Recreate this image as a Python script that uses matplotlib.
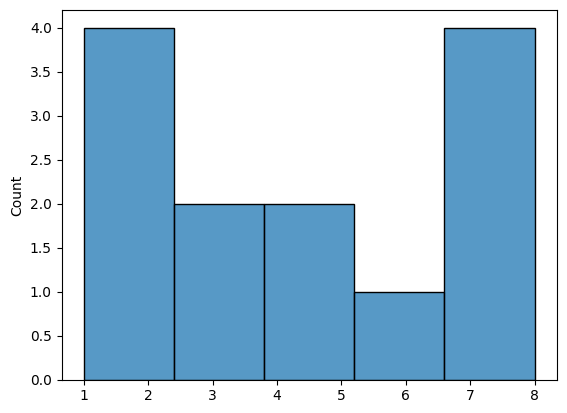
import numpy as np
import matplotlib
matplotlib.use("Agg")
import matplotlib.pyplot as plt
import seaborn as sns

## Donnees
bin_edges = [1.0, 2.4, 3.8, 5.2, 6.6, 8.0]
counts = [4, 2, 2, 1, 4]

## Trace
centers = [(bin_edges[i] + bin_edges[i+1]) / 2 for i in range(len(counts))]
fig = plt.figure(figsize=(5.67, 4.13), dpi=100)
ax = fig.add_axes([0.1085, 0.0811, 0.874, 0.894])
sns.histplot(x=centers, weights=counts, bins=bin_edges, edgecolor="black", ax=ax)
ax.set_ylabel("Count")
ax.set_xlabel("")
fig.savefig("out.png", dpi=100)
